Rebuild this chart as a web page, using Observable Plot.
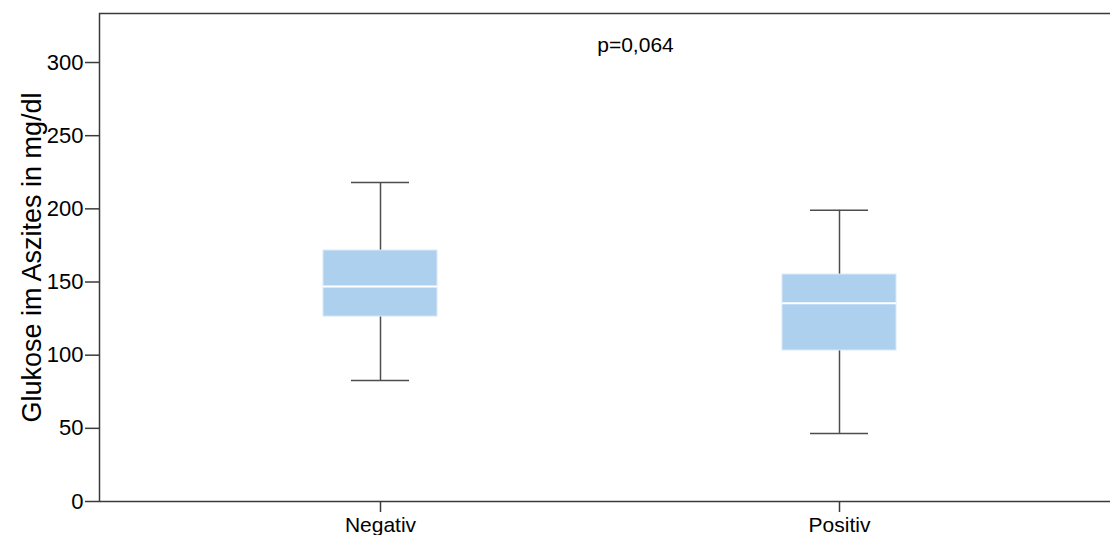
<!DOCTYPE html>
<html>
<head>
<meta charset="utf-8">
<script src="https://cdn.jsdelivr.net/npm/d3@7"></script>
<script src="https://cdn.jsdelivr.net/npm/@observablehq/plot@0.6"></script>
<style>
  html, body { margin: 0; padding: 0; background: #fff; }
  #chart svg { font-family: "Liberation Sans", Arial, Helvetica, sans-serif; overflow: hidden; }
</style>
</head>
<body>
<div id="chart"></div>
<script>
// ---- data ----
const groups = ["Negativ", "Positiv"];
const lowerWhisker = [82.7, 46.5];
const q1 = [126.4, 103.2];
const median = [146.9, 135.5];
const q3 = [171.5, 155.1];
const upperWhisker = [218, 199];
const yTicks = [0, 50, 100, 150, 200, 250, 300];
const yDomain = [0, 333.5];
const yLabel = "Glukose im Aszites in mg/dl";
const pValueLabel = "p=0,064";

const rows = groups.map((g, i) => ({
  group: g,
  lo: lowerWhisker[i],
  q1: q1[i],
  med: median[i],
  q3: q3[i],
  hi: upperWhisker[i]
}));

const axisColor = "#3a3a3a";
const whiskerColor = "#4d4d4d";
const boxFill = "#aed0ef";

const chart = Plot.plot({
  width: 1110,
  height: 535,
  marginLeft: 99,
  marginRight: -9,
  marginTop: 13,
  marginBottom: 34,
  style: { fontFamily: "'Liberation Sans', Arial, Helvetica, sans-serif", color: "#000", background: "#fff" },
  x: { type: "band", domain: groups, paddingInner: 0.752, paddingOuter: 0.4848 },
  y: { domain: yDomain },
  marks: [
    Plot.frame({ stroke: axisColor, strokeWidth: 1.5 }),
    // whiskers
    Plot.ruleX(rows, { x: "group", y1: "q3", y2: "hi", stroke: whiskerColor, strokeWidth: 1.5 }),
    Plot.ruleX(rows, { x: "group", y1: "lo", y2: "q1", stroke: whiskerColor, strokeWidth: 1.5 }),
    // whisker caps
    Plot.tickY(rows, { x: "group", y: "hi", stroke: whiskerColor, strokeWidth: 1.5, insetLeft: 28, insetRight: 28 }),
    Plot.tickY(rows, { x: "group", y: "lo", stroke: whiskerColor, strokeWidth: 1.5, insetLeft: 28, insetRight: 28 }),
    // boxes
    Plot.rectY(rows, { x: "group", y1: "q1", y2: "q3", fill: boxFill, stroke: "#d8e8f7", strokeWidth: 1 }),
    // medians
    Plot.tickY(rows, { x: "group", y: "med", stroke: "#ffffff", strokeWidth: 2 }),
    // axes
    Plot.axisY({ ticks: yTicks, tickSize: 14, tickPadding: 2, fontSize: 22, label: null, stroke: axisColor, strokeWidth: 1.5 }),
    Plot.axisX({ tickSize: 11, tickPadding: 5, fontSize: 21, label: null, stroke: axisColor, strokeWidth: 1.5 }),
    // y-axis title
    Plot.text([yLabel], { frameAnchor: "left", textAnchor: "middle", rotate: -90, dx: -67, fontSize: 27, fill: "#000", text: d => d }),
    // p-value annotation
    Plot.text([pValueLabel], { frameAnchor: "top", dx: 26, dy: 24, fontSize: 21, fill: "#000", text: d => d })
  ]
});

document.getElementById("chart").appendChild(chart);
</script>
</body>
</html>
